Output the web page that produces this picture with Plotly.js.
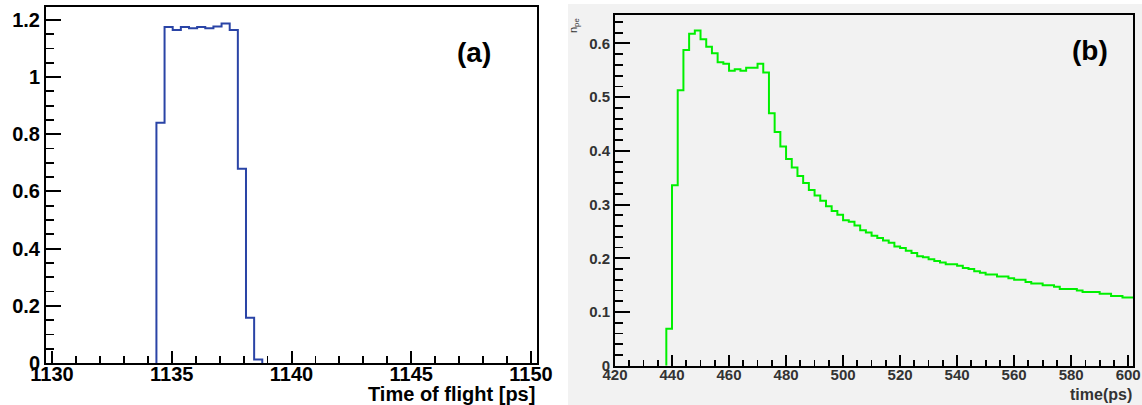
<!DOCTYPE html>
<html>
<head>
<meta charset="utf-8">
<script src="https://cdn.plot.ly/plotly-3.0.1.min.js"></script>
<style>html,body{margin:0;padding:0;background:#fff;}#chart{width:1142px;height:405px;}</style>
</head>
<body>
<div id="chart"></div>
<script>
// Panel (a): time of flight histogram
const tofEdges = [1134.36, 1134.70, 1135.04, 1135.38, 1135.72, 1136.06, 1136.40, 1136.74, 1137.08, 1137.42, 1137.76, 1138.10, 1138.44, 1138.78];
const tofValues = [0.84, 1.175, 1.165, 1.175, 1.171, 1.175, 1.171, 1.177, 1.187, 1.165, 0.679, 0.158, 0.012];

// Panel (b): n_pe vs time(ps), bins of 2 ps
const timeEdges = [438,440,442,444,446,448,450,452,454,456,458,460,462,464,466,468,470,472,474,476,478,480,482,484,486,488,490,492,494,496,498,500,502,504,506,508,510,512,514,516,518,520,522,524,526,528,530,532,534,536,538,540,542,544,546,548,550,552,554,556,558,560,562,564,566,568,570,572,574,576,578,580,582,584,586,588,590,592,594,596,598,600,602];
const npeValues = [0.069,0.336,0.513,0.588,0.618,0.624,0.608,0.594,0.582,0.565,0.562,0.549,0.552,0.549,0.555,0.555,0.562,0.546,0.470,0.435,0.408,0.385,0.369,0.353,0.340,0.327,0.317,0.307,0.297,0.288,0.281,0.271,0.268,0.261,0.252,0.248,0.242,0.238,0.233,0.229,0.222,0.219,0.214,0.210,0.204,0.202,0.198,0.195,0.192,0.189,0.189,0.186,0.182,0.180,0.176,0.173,0.170,0.170,0.166,0.166,0.163,0.160,0.160,0.156,0.153,0.153,0.150,0.150,0.147,0.143,0.143,0.143,0.140,0.137,0.137,0.137,0.134,0.134,0.130,0.130,0.127,0.127];

const xTicksA = [1130, 1135, 1140, 1145, 1150];
const yTicksA = [0, 0.2, 0.4, 0.6, 0.8, 1, 1.2];
const xTicksB = [420, 440, 460, 480, 500, 520, 540, 560, 580, 600];
const yTicksB = [0, 0.1, 0.2, 0.3, 0.4, 0.5, 0.6];

function outline(edges, vals, dropToZero) {
  const x = [edges[0]], y = [0];
  for (let i = 0; i < vals.length; i++) { x.push(edges[i]); y.push(vals[i]); }
  x.push(edges[vals.length]); y.push(dropToZero ? 0 : vals[vals.length - 1]);
  return {x, y};
}

const a = outline(tofEdges, tofValues, true);
const b = outline(timeEdges, npeValues, false);

const FF = 'Liberation Sans, Arial, sans-serif';
const W = 1142, H = 405;

const traces = [
  {x: a.x, y: a.y, type: 'scatter', mode: 'lines', line: {shape: 'hv', color: '#2a44a6', width: 2}, xaxis: 'x', yaxis: 'y', hoverinfo: 'skip'},
  {x: b.x, y: b.y, type: 'scatter', mode: 'lines', line: {shape: 'hv', color: '#00f000', width: 2}, xaxis: 'x2', yaxis: 'y2', hoverinfo: 'skip'}
];

const axBase = {showgrid: false, zeroline: false, showline: true, linecolor: '#000', linewidth: 2, mirror: true, ticks: 'inside', tickcolor: '#000', tickwidth: 2, fixedrange: true};

const layout = {
  width: W, height: H,
  margin: {l: 0, r: 0, t: 0, b: 0},
  paper_bgcolor: '#ffffff',
  plot_bgcolor: 'rgba(0,0,0,0)',
  showlegend: false,
  font: {family: FF},
  xaxis: Object.assign({}, axBase, {
    domain: [46 / W, 537 / W], anchor: 'y', range: [1129.75, 1150.25],
    tickmode: 'array', tickvals: xTicksA, ticktext: xTicksA.map(String), ticklen: 12,
    ticklabelstandoff: -8,
    minor: {ticks: 'inside', dtick: 1, ticklen: 7, tickcolor: '#000', tickwidth: 1.8},
    tickfont: {family: FF, size: 20, color: '#000', weight: 'bold'}
  }),
  yaxis: Object.assign({}, axBase, {
    domain: [(H - 363) / H, (H - 7) / H], anchor: 'x', range: [0, 1.245],
    tickmode: 'array', tickvals: yTicksA, ticktext: yTicksA.map(String), ticklen: 15,
    minor: {ticks: 'inside', dtick: 0.05, ticklen: 8, tickcolor: '#000', tickwidth: 1.8},
    tickfont: {family: FF, size: 20, color: '#000', weight: 'bold'}
  }),
  xaxis2: Object.assign({}, axBase, {
    domain: [615 / W, 1133.3 / W], anchor: 'y2', range: [420, 601.8],
    tickmode: 'array', tickvals: xTicksB, ticktext: xTicksB.map(String), ticklen: 11,
    ticklabelstandoff: -6,
    minor: {ticks: 'inside', dtick: 5, ticklen: 6, tickcolor: '#000', tickwidth: 1.8},
    tickfont: {family: FF, size: 15, color: '#333', weight: 'bold'}
  }),
  yaxis2: Object.assign({}, axBase, {
    domain: [(H - 365.7) / H, (H - 15) / H], anchor: 'x2', range: [0, 0.653],
    tickmode: 'array', tickvals: yTicksB, ticktext: yTicksB.map(String), ticklen: 15,
    minor: {ticks: 'inside', dtick: 0.02, ticklen: 8, tickcolor: '#000', tickwidth: 1.8},
    tickfont: {family: FF, size: 15, color: '#333', weight: 'bold'}
  }),
  shapes: [
    {type: 'rect', xref: 'paper', yref: 'paper', x0: 568 / W, x1: 1, y0: 0, y1: (H - 4) / H, fillcolor: '#f2f2f2', line: {width: 0}, layer: 'below'}
  ],
  annotations: [
    {text: 'Time of flight [ps]', xref: 'paper', yref: 'paper', x: 537 / W, y: (H - 394) / H, xanchor: 'right', yanchor: 'middle', showarrow: false, font: {family: FF, size: 20, color: '#000', weight: 'bold'}},
    {text: 'time(ps)', xref: 'paper', yref: 'paper', x: 1134 / W, y: (H - 394) / H, xanchor: 'right', yanchor: 'middle', showarrow: false, font: {family: FF, size: 16, color: '#333', weight: 'bold'}},
    {text: 'n<sub>pe</sub>', xref: 'paper', yref: 'paper', x: 574 / W, y: (H - 26) / H, xanchor: 'center', yanchor: 'middle', textangle: -90, showarrow: false, font: {family: FF, size: 11, color: '#333'}},
    {text: '(a)', xref: 'paper', yref: 'paper', x: 474 / W, y: (H - 52) / H, xanchor: 'center', yanchor: 'middle', showarrow: false, font: {family: FF, size: 28, color: '#000', weight: 'bold'}},
    {text: '(b)', xref: 'paper', yref: 'paper', x: 1090 / W, y: (H - 50) / H, xanchor: 'center', yanchor: 'middle', showarrow: false, font: {family: FF, size: 28, color: '#000', weight: 'bold'}}
  ]
};

Plotly.newPlot('chart', traces, layout, {staticPlot: true, displayModeBar: false});
</script>
</body>
</html>
